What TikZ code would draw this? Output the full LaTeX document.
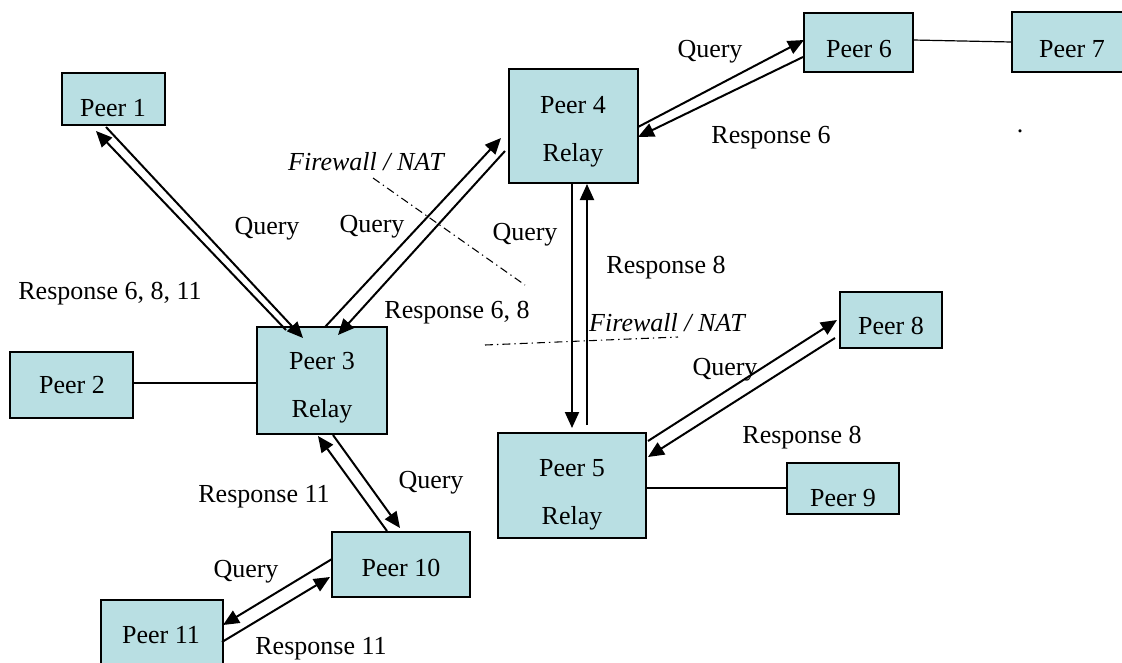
\documentclass[tikz,border=0pt]{standalone}
\usepackage{fontspec}
\setmainfont{Liberation Serif}
\usetikzlibrary{arrows.meta,calc,fit}
\definecolor{boxfill}{RGB}{185,223,227}
\begin{document}
\begin{tikzpicture}[x=0.75pt,y=-0.75pt,
  box/.style={draw=black, line width=1pt, fill=boxfill, inner sep=0pt, outer sep=0pt},
  txt/.style={font=\fontsize{19.5}{23}\selectfont, anchor=base, inner sep=0pt},
  ital/.style={txt, font=\fontsize{19.5}{23}\selectfont\itshape},
  arr/.style={line width=1.5pt, -{Triangle[length=12pt,width=10.5pt]}},
  link/.style={line width=0.9pt},
  fw/.style={line width=0.8pt, dash pattern=on 6pt off 3pt on 1pt off 3pt}]
\useasboundingbox (0,0) rectangle (1122,662);
\clip (0,0) rectangle (1122,662);

% boxes
\node[box, fit={(62,73) (165,125)}] (p1) {};
\node[box, fit={(10,352) (133,418)}] (p2) {};
\node[box, fit={(257,327) (387,434)}] (p3) {};
\node[box, fit={(509,69) (638,183)}] (p4) {};
\node[box, fit={(498,433) (646,538)}] (p5) {};
\node[box, fit={(804,13) (913,72)}] (p6) {};
\node[box, fit={(1012,12) (1140,72)}] (p7) {};
\node[box, fit={(840,292) (942,348)}] (p8) {};
\node[box, fit={(787,463) (899,514)}] (p9) {};
\node[box, fit={(332,532) (470,597)}] (p10) {};
\node[box, fit={(101,600) (223,680)}] (p11) {};

% box texts
\node[txt] (t1) at (113,116) {Peer 1};
\node[txt] (t2) at (72,393) {Peer 2};
\node[txt] (t3a) at (322,369) {Peer 3};
\node[txt] (t3b) at (322,417) {Relay};
\node[txt] (t4a) at (573,113) {Peer 4};
\node[txt] (t4b) at (573,161) {Relay};
\node[txt] (t5a) at (572,476) {Peer 5};
\node[txt] (t5b) at (572,524) {Relay};
\node[txt] (t6) at (859,57) {Peer 6};
\node[txt] (t7) at (1072,57) {Peer 7};
\node[txt] (t8) at (891,334) {Peer 8};
\node[txt] (t9) at (843,506) {Peer 9};
\node[txt] (t10) at (401,576) {Peer 10};
\node[txt] (t11) at (161,643) {Peer 11};

% plain links
\draw[link] ($(p2.north east)+(0,31)$) -- ($(p3.north west)+(0,56)$);
\draw[link] ($(p6.north east)+(0,27)$) -- ($(p7.north west)+(0,30)$);
\draw[link] ($(p5.north east)+(0,55)$) -- ($(p9.north west)+(0,25)$);

% firewall lines
\coordinate (fa1) at (373,178);
\coordinate (fa2) at (525,285);
\coordinate (fb1) at (485,345);
\coordinate (fb2) at (678,337);
\draw[fw] (fa1) -- (fa2);
\draw[fw] (fb1) -- (fb2);

% arrows
\draw[arr] ($(p3.north west)+(29,3)$) -- ($(p1.north west)+(34,58)$);
\draw[arr] ($(p1.north west)+(44,54)$) -- ($(p3.north west)+(46,11)$);
\draw[arr] ($(p3.north west)+(68,0)$) -- ($(p4.north west)+(-8,69)$);
\draw[arr] ($(p4.north west)+(-4,82)$) -- ($(p3.north west)+(81,8)$);
\draw[arr] ($(p4.north west)+(129,58)$) -- ($(p6.north west)+(0,27)$);
\draw[arr] ($(p6.north west)+(-1,44)$) -- ($(p4.north west)+(129,68)$);
\draw[arr] ($(p4.north west)+(63,114)$) -- ($(p5.north west)+(74,-5)$);
\draw[arr] ($(p5.north west)+(89,-8)$) -- ($(p4.north west)+(78,115)$);
\draw[arr] ($(p5.north west)+(150,8)$) -- ($(p8.north west)+(-3,28)$);
\draw[arr] ($(p8.north west)+(-5,46)$) -- ($(p5.north west)+(150,24)$);
\draw[arr] ($(p10.north west)+(55,-1)$) -- ($(p3.north west)+(61,109)$);
\draw[arr] ($(p3.north west)+(76,108)$) -- ($(p10.north west)+(68,-4)$);
\draw[arr] ($(p10.north west)+(0,27)$) -- ($(p11.north west)+(122,25)$);
\draw[arr] ($(p11.north west)+(121,42)$) -- ($(p10.north west)+(-2,45)$);

% labels
\node[txt] (q1) at (267,234) {Query};
\node[txt] (q2) at (372,232) {Query};
\node[txt] (q3) at (525,240) {Query};
\node[txt] (q4) at (710,57) {Query};
\node[txt] (q5) at (725,375) {Query};
\node[txt] (q6) at (431,488) {Query};
\node[txt] (q7) at (246,577) {Query};
\node[txt] (r1) at (110,299) {Response 6, 8, 11};
\node[txt] (r2) at (457,318) {Response 6, 8};
\node[txt] (r3) at (771,143) {Response 6};
\node[txt] (r4) at (666,273) {Response 8};
\node[txt] (r5) at (802,443) {Response 8};
\node[txt] (r6) at (264,502) {Response 11};
\node[txt] (r7) at (321,654) {Response 11};
\node[ital] (fw1) at (366,170) {Firewall / NAT};
\node[ital] (fw2) at (667,331) {Firewall / NAT};
\node[txt] (dot) at (1020,132) {.};
\end{tikzpicture}
\end{document}
